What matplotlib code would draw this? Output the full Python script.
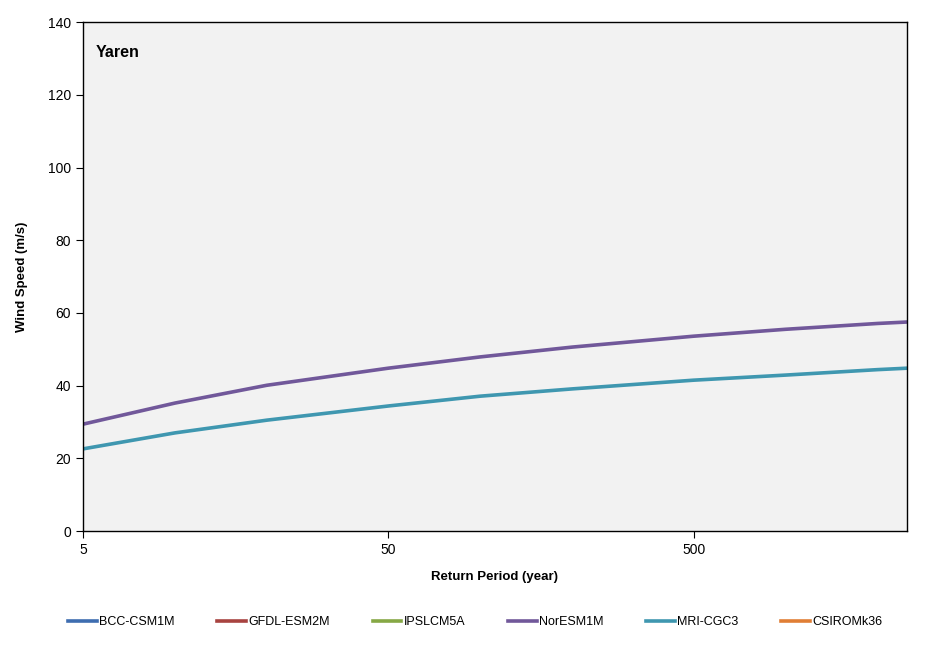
import matplotlib
matplotlib.use("Agg")
import matplotlib.pyplot as plt

plt.rcParams['font.family'] = ['Liberation Sans Narrow', 'Liberation Sans', 'DejaVu Sans']

# Return periods (years) and wind speeds (m/s)
return_period = [5, 10, 20, 50, 100, 200, 500, 1000, 2000, 2500]
noresm = [29.4, 35.2, 40.1, 44.8, 47.9, 50.6, 53.6, 55.5, 57.1, 57.5]
mri = [22.6, 27.0, 30.5, 34.4, 37.1, 39.1, 41.5, 42.9, 44.4, 44.8]

models = ["BCC-CSM1M", "GFDL-ESM2M", "IPSLCM5A", "NorESM1M", "MRI-CGC3", "CSIROMk36"]
colors = ["#3E6DB0", "#A84340", "#86A845", "#71589A", "#3F97B0", "#E07E35"]
series = {"NorESM1M": noresm, "MRI-CGC3": mri}

fig = plt.figure(figsize=(9.45, 6.5), dpi=100)
ax = fig.add_axes([0.0878, 0.183, 0.872, 0.783])
ax.set_facecolor("#F2F2F2")

for name, col in zip(models, colors):
    ys = series.get(name)
    if ys is None:
        ax.plot([], [], color=col, lw=2.6, label=name)
    else:
        ax.plot(return_period, ys, color=col, lw=2.6, label=name)

ax.set_xscale("log")
ax.set_xlim(5, 2500)
ax.set_ylim(0, 140)
ax.set_xticks([5, 50, 500])
ax.set_xticklabels(["5", "50", "500"])
ax.xaxis.set_minor_locator(matplotlib.ticker.NullLocator())
ax.set_yticks(range(0, 141, 20))
ax.tick_params(axis="both", labelsize=10, length=5, width=0.8, colors="black")

for side in ["top", "right", "left", "bottom"]:
    ax.spines[side].set_linewidth(1.0)

ax.set_xlabel("Return Period (year)", fontsize=9.5, fontweight="bold", labelpad=10)
ax.set_ylabel("Wind Speed (m/s)", fontsize=9.5, fontweight="bold", labelpad=14)
ax.text(0.016, 0.955, "Yaren", transform=ax.transAxes, fontsize=11.5,
        fontweight="bold", va="top", ha="left")

fig.legend(loc="center", bbox_to_anchor=(0.503, 0.043), ncol=6, frameon=False,
           fontsize=9, handlelength=2.3, handletextpad=0.2, columnspacing=3.4)

fig.savefig("out.png", dpi=100)
